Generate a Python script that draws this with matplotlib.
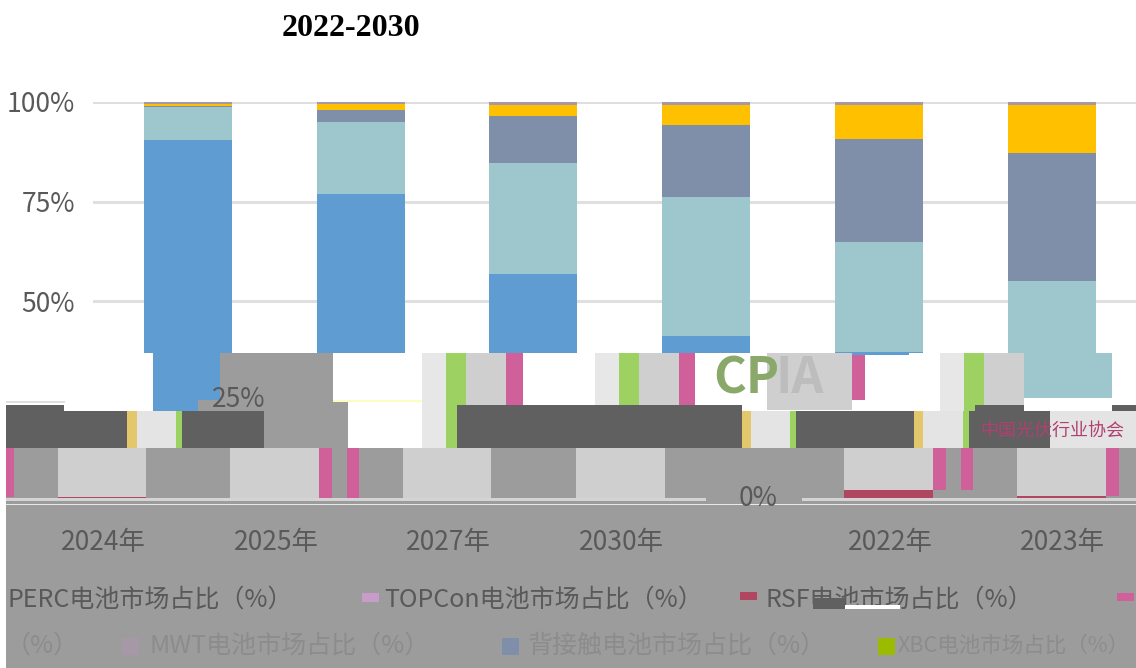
import matplotlib
matplotlib.use("Agg")
import matplotlib.pyplot as plt
from matplotlib.patches import Rectangle

plt.rcParams["font.family"] = ["Noto Sans CJK SC", "DejaVu Sans"]

W, H = 1136, 668

# Data (percent share, reading order of the picture)
categories = ["2024年", "2025年", "2027年", "2030年", "2022年", "2023年"]
bsf = [0.4, 0, 0, 0, 2.3, 0.5]
perc = [90.1, 76.9, 56.8, 41.2, 34.9, 24.9]
topcon = [8.2, 18.1, 27.9, 34.9, 27.6, 29.6]
hjt = [0.4, 3.0, 11.7, 18.1, 25.9, 32.2]
xbc = [0.4, 1.4, 2.8, 5.0, 8.5, 12.0]
other = [0.5, 0.6, 0.8, 0.8, 0.8, 0.8]

series = [bsf, perc, topcon, hjt, xbc, other]
colors = ["#b0465f", "#5e9cd2", "#9dc6cd", "#7f8fa9", "#ffc000", "#a698a6"]

fig = plt.figure(figsize=(W / 100, H / 100), dpi=100)
ax = fig.add_axes([93 / W, 1 - 500 / H, (W - 93) / W, 398 / H])

# Stacked bars
x = list(range(len(categories)))
bottom = [0] * len(categories)
for values, color in zip(series, colors):
    ax.bar(x, values, width=0.51, bottom=bottom, color=color, zorder=3)
    bottom = [b + v for b, v in zip(bottom, values)]

ax.set_xlim(-0.55, 5.489)
ax.set_ylim(0, 100)
ax.set_yticks([50, 75, 100])
ax.set_yticklabels(["50%", "75%", "100%"], fontsize=19, color="#595959")
ax.set_xticks([])
ax.tick_params(axis="y", length=0, pad=13)
ax.grid(axis="y", color="#dfdfdf", linewidth=2.2, zorder=0)
for side in ax.spines:
    ax.spines[side].set_visible(False)


def block(x0, y0, x1, y1, color):
    fig.add_artist(Rectangle((x0 / W, 1 - y1 / H), (x1 - x0) / W, (y1 - y0) / H,
                             transform=fig.transFigure, color=color, lw=0, zorder=5))


def label(px, py, s, **kw):
    kw.setdefault("color", "#595959")
    kw.setdefault("va", "center")
    fig.text(px / W, 1 - py / H, s, zorder=7, **kw)


GRAY = "#9c9c9c"
DARK = "#606060"
LIGHT = "#cfcfcf"
PALE = "#e7e7e7"
PINK = "#d0609a"
GREEN = "#9dd262"
YEL = "#e3c76b"
RED = "#b0465f"

# Broken lower part of the picture
block(0, 353, W, H, "white")
block(153, 353, 220, 411, "#5e9cd2")
block(220, 353, 333, 400, GRAY)
block(198, 400, 348, 448, GRAY)
block(6, 401, 65, 403, "#e0e0e0")
block(333, 400, 422, 402, "#fdfdc0")

block(6, 405, 64, 448, DARK)
block(64, 411, 127, 448, DARK)
block(127, 411, 137, 448, YEL)
block(137, 411, 176, 448, "#e4e4e4")
block(176, 411, 182, 448, GREEN)
block(182, 411, 264, 448, DARK)
block(264, 411, 348, 448, GRAY)

for x0 in [422, 595, 940]:
    block(x0, 353, x0 + 24, 448, PALE)
    block(x0 + 24, 353, x0 + 44, 448, GREEN)
    block(x0 + 44, 353, x0 + 84, 405, LIGHT)
block(506, 353, 523, 411, PINK)
block(679, 353, 695, 411, PINK)
block(1024, 353, 1112, 398, "#9dc6cd")
block(835, 352, 909, 355, "#5e9cd2")
block(767, 353, 852, 410, LIGHT)
block(852, 355, 865, 400, PINK)

block(457, 405, 742, 448, DARK)
block(630, 405, 680, 411, DARK)
block(742, 411, 751, 448, YEL)
block(751, 411, 790, 448, "#e4e4e4")
block(790, 411, 796, 448, GREEN)
block(796, 411, 914, 448, DARK)
block(914, 411, 923, 448, YEL)
block(923, 411, 963, 448, "#e4e4e4")
block(963, 411, 969, 448, GREEN)
block(969, 411, 1050, 448, DARK)
block(975, 405, 1024, 411, DARK)
block(1112, 405, 1136, 411, DARK)
block(1050, 411, 1136, 448, "#e4e4e4")

block(6, 448, W, H, GRAY)
for x0, x1 in [(58, 146), (230, 319), (403, 491), (576, 665)]:
    block(x0, 448, x1, 498, LIGHT)
block(58, 497, 146, 498, RED)
block(844, 448, 933, 490, LIGHT)
block(844, 490, 933, 498, RED)
block(1017, 448, 1106, 496, LIGHT)
block(1017, 496, 1106, 498, RED)
for x0, x1, y1 in [(6, 14, 497), (319, 332, 498), (347, 359, 498),
                   (933, 946, 490), (961, 973, 490), (1106, 1119, 496)]:
    block(x0, 448, x1, y1, PINK)
block(6, 498, 706, 501, "#d4d4d4")
block(802, 498, W, 501, "#d4d4d4")
block(6, 504, W, 505, "#e8e8e8")

# Legend pieces
for x0, y0, y1, c in [(362, 593, 602, "#c89cc8"), (740, 592, 600, RED), (1117, 593, 601, PINK),
                      (122, 638, 655, "#a698a6"), (502, 638, 655, "#7f8fa9"), (878, 638, 655, "#9bbb00")]:
    block(x0, y0, x0 + 17, y1, c)

# Title and text
label(351, 28, "2022-2030", ha="center", fontsize=23, color="black",
      fontweight="bold", family="Liberation Serif")
label(239, 400, "25%", ha="center", fontsize=19)
label(758, 499, "0%", ha="center", fontsize=19)
for px, s in zip([103, 276, 448, 621, 890, 1062], categories):
    label(px, 542, s, ha="center", fontsize=19)

label(8, 600, "PERC电池市场占比（%）", fontsize=18)
label(384, 600, "TOPCon电池市场占比（%）", fontsize=18)
label(766, 600, "RSF电池市场占比（%）", fontsize=18)
label(6, 646, "（%）", fontsize=18, color="#8c8c8c")
label(150, 646, "MWT电池市场占比（%）", fontsize=18, color="#8c8c8c")
label(528, 646, "背接触电池市场占比（%）", fontsize=18, color="#8c8c8c")
label(898, 646, "XBC电池市场占比（%）", fontsize=15.5, color="#8c8c8c")

# Patch that sits over the RSF legend entry
fig.add_artist(Rectangle((813 / W, 1 - 609 / H), 32 / W, 11 / H, transform=fig.transFigure,
                         color=DARK, lw=0, zorder=8))
fig.add_artist(Rectangle((845 / W, 1 - 609 / H), 55 / W, 4 / H, transform=fig.transFigure,
                         color="white", lw=0, zorder=8))

# Watermark
label(713, 379, "CP", ha="left", fontsize=36, fontweight="bold", color="#8aa86a")
label(776, 379, "IA", ha="left", fontsize=36, fontweight="bold", color="#bdbdbd")
label(1052, 431, "中国光伏行业协会", ha="center", fontsize=13, color="#b0406f")

fig.savefig("out.png", dpi=100)
